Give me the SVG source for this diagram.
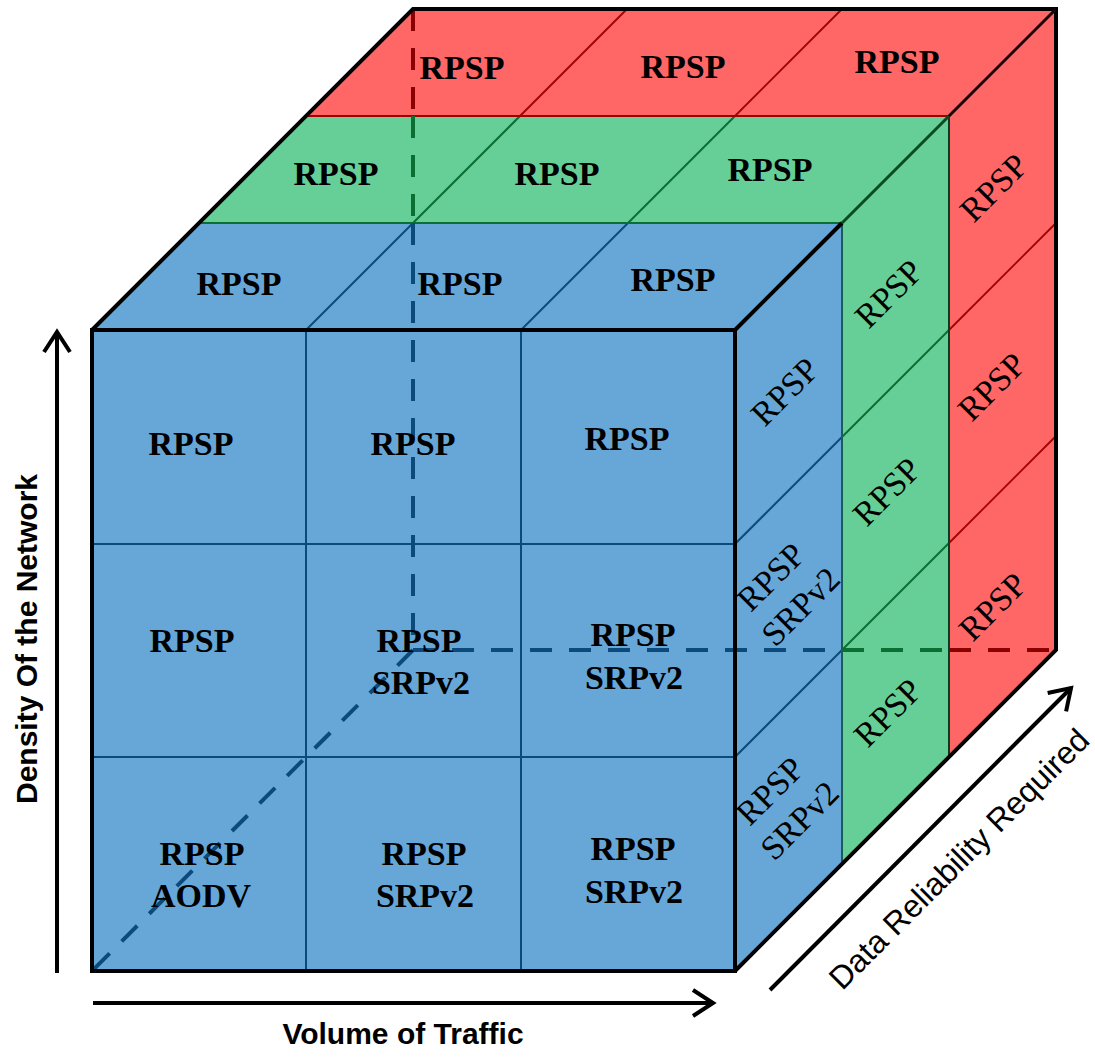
<svg xmlns="http://www.w3.org/2000/svg" width="1095" height="1057" viewBox="0 0 1095 1057">
<defs>
<style>
.b{fill:#66A7D8}
.g{fill:#66CF97}
.r{fill:#FF6666}
.gb{stroke:#0D4A7C;stroke-width:2;fill:none}
.gg{stroke:#0B6E33;stroke-width:2;fill:none}
.gr{stroke:#A30000;stroke-width:1.8;fill:none}
.edge{stroke:#000;stroke-width:4;fill:none;stroke-linejoin:miter}
.dash{stroke-width:4;stroke-dasharray:22 17;fill:none}
.db{stroke:#0D4A7C}
.dg{stroke:#0B6E33}
.dr{stroke:#8B0000}
.t{font-family:"Liberation Serif","Times New Roman",serif;font-size:34px;text-anchor:middle;fill:#000}
.tb{font-weight:bold}
.ax{font-family:"Liberation Sans",Arial,sans-serif;fill:#000;text-anchor:middle}
.axl{stroke:#000;stroke-width:4;fill:none}
</style>
<marker id="arr" markerUnits="userSpaceOnUse" markerWidth="30" markerHeight="32" viewBox="-25 -16 30 32" refX="0" refY="0" orient="auto" overflow="visible">
<path d="M-20,-13 L0,0 L-20,13" fill="none" stroke="#000" stroke-width="4"/>
</marker>
</defs>

<g id="faces">
<rect class="b" x="92" y="330" width="643" height="641"/>
<polygon class="b" points="92,330 199,223 842,223 735,330"/>
<polygon class="b" points="735,330 842,223 842,864 735,971"/>
<polygon class="g" points="199,223 306,116 949,116 842,223"/>
<polygon class="g" points="842,223 949,116 949,757 842,864"/>
<polygon class="r" points="306,116 413,9 1056,9 949,116"/>
<polygon class="r" points="949,116 1056,9 1056,650 949,757"/>
</g>

<g id="grid">
<line class="gb" x1="306" y1="330" x2="306" y2="971"/>
<line class="gb" x1="521" y1="330" x2="521" y2="971"/>
<line class="gb" x1="92" y1="544" x2="735" y2="544"/>
<line class="gb" x1="92" y1="757" x2="735" y2="757"/>
<line class="gb" x1="306" y1="330" x2="413" y2="223"/>
<line class="gb" x1="521" y1="330" x2="628" y2="223"/>
<line class="gg" x1="413" y1="223" x2="520" y2="116"/>
<line class="gg" x1="628" y1="223" x2="735" y2="116"/>
<line class="gr" x1="520" y1="116" x2="627" y2="9"/>
<line class="gr" x1="735" y1="116" x2="842" y2="9"/>
<line class="gb" x1="735" y1="544" x2="842" y2="437"/>
<line class="gb" x1="735" y1="757" x2="842" y2="650"/>
<line class="gg" x1="842" y1="437" x2="949" y2="330"/>
<line class="gg" x1="842" y1="650" x2="949" y2="543"/>
<line class="gr" x1="949" y1="330" x2="1056" y2="223"/>
<line class="gr" x1="949" y1="543" x2="1056" y2="436"/>
<line class="gg" x1="199" y1="223" x2="842" y2="223"/>
<line class="gr" x1="306" y1="116" x2="949" y2="116"/>
<line stroke="#1B5B5A" stroke-width="2" x1="842" y1="223" x2="842" y2="864"/>
<line stroke="#0A3D1F" stroke-width="2" x1="949" y1="116" x2="949" y2="757"/>
</g>

<g id="hidden-edges">
<line class="dash dr" x1="413" y1="9" x2="413" y2="116"/>
<line class="dash dg" x1="413" y1="116" x2="413" y2="223"/>
<line class="dash db" x1="413" y1="223" x2="413" y2="650"/>
<line class="dash db" x1="413" y1="650" x2="842" y2="650"/>
<line class="dash dg" x1="842" y1="650" x2="949" y2="650"/>
<line class="dash dr" x1="949" y1="650" x2="1056" y2="650"/>
<line class="dash db" x1="413" y1="650" x2="92" y2="971"/>
</g>

<g id="outline">
<rect class="edge" x="92" y="330" width="643" height="641"/>
<path class="edge" d="M92,330 L413,9 L1056,9 L1056,650 L735,971"/>
<line class="edge" x1="735" y1="330" x2="842" y2="223"/>
<line stroke="#0A4A22" stroke-width="3" x1="842" y1="223" x2="949" y2="116"/>
<line stroke="#1A0000" stroke-width="3" x1="949" y1="116" x2="1056" y2="9"/>
</g>

<g id="front-labels">
<text class="t tb" x="191" y="455">RPSP</text>
<text class="t tb" x="413" y="455">RPSP</text>
<text class="t tb" x="627" y="450">RPSP</text>
<text class="t tb" x="192" y="652">RPSP</text>
<text class="t tb" x="419" y="652">RPSP</text>
<text class="t tb" x="421" y="694">SRPv2</text>
<text class="t tb" x="633" y="646">RPSP</text>
<text class="t tb" x="634" y="689">SRPv2</text>
<text class="t tb" x="202" y="865">RPSP</text>
<text class="t tb" x="201" y="907">AODV</text>
<text class="t tb" x="424" y="865">RPSP</text>
<text class="t tb" x="425" y="907">SRPv2</text>
<text class="t tb" x="633" y="860">RPSP</text>
<text class="t tb" x="634" y="903">SRPv2</text>
</g>

<g id="top-labels">
<text class="t tb" x="239" y="295">RPSP</text>
<text class="t tb" x="460" y="295">RPSP</text>
<text class="t tb" x="673" y="291">RPSP</text>
<text class="t tb" x="336" y="185">RPSP</text>
<text class="t tb" x="557" y="185">RPSP</text>
<text class="t tb" x="770" y="181">RPSP</text>
<text class="t tb" x="462" y="79">RPSP</text>
<text class="t tb" x="683" y="78">RPSP</text>
<text class="t tb" x="897" y="73">RPSP</text>
</g>

<g id="side-labels">
<text class="t" transform="translate(785,392) rotate(-45)" x="0" y="11">RPSP</text>
<text class="t" transform="translate(889,294) rotate(-45)" x="0" y="11">RPSP</text>
<text class="t" transform="translate(994,188) rotate(-45)" x="0" y="11">RPSP</text>
<text class="t" transform="translate(786,592) rotate(-45)"><tspan x="0" y="-10">RPSP</tspan><tspan x="0" y="32">SRPv2</tspan></text>
<text class="t" transform="translate(887,492) rotate(-45)" x="0" y="11">RPSP</text>
<text class="t" transform="translate(992,387) rotate(-45)" x="0" y="11">RPSP</text>
<text class="t" transform="translate(785,806) rotate(-45)"><tspan x="0" y="-10">RPSP</tspan><tspan x="0" y="32">SRPv2</tspan></text>
<text class="t" transform="translate(888,713) rotate(-45)" x="0" y="11">RPSP</text>
<text class="t" transform="translate(993,607) rotate(-45)" x="0" y="11">RPSP</text>
</g>

<g id="axes">
<line class="axl" x1="57" y1="973" x2="57" y2="332" marker-end="url(#arr)"/>
<line class="axl" x1="93" y1="1003" x2="713" y2="1003" marker-end="url(#arr)"/>
<line class="axl" x1="770" y1="990" x2="1071" y2="688" marker-end="url(#arr)"/>
</g>

<g id="axis-labels">
<text class="ax" font-size="30" font-weight="bold" transform="translate(37,639) rotate(-90)" x="0" y="0">Density Of the Network</text>
<text class="ax" font-size="30" font-weight="bold" x="403" y="1044">Volume of Traffic</text>
<text class="ax" font-size="32" transform="translate(959,859) rotate(-45)" x="0" y="11">Data Reliability Required</text>
</g>
</svg>
